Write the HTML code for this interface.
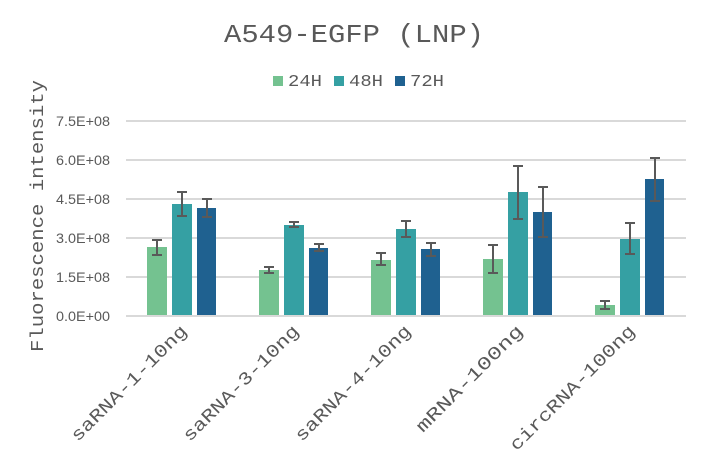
<!DOCTYPE html>
<html><head><style>body{margin:0;background:#fff}svg{display:block}</style></head><body>
<svg width="709" height="472" xmlns="http://www.w3.org/2000/svg">
<rect width="709" height="472" fill="#fff"/>
<text x="354" y="42" text-anchor="middle" font-family="Liberation Mono, monospace" font-size="26" fill="#595959" textLength="260" lengthAdjust="spacingAndGlyphs">A549-EGFP (LNP)</text>
<g font-family="Liberation Mono, monospace" font-size="17" fill="#595959">
<rect x="273" y="76" width="10" height="10" fill="#74c290"/><text x="288" y="86" textLength="34" lengthAdjust="spacingAndGlyphs">24H</text>
<rect x="334" y="76" width="10" height="10" fill="#35a0a3"/><text x="349" y="86" textLength="34" lengthAdjust="spacingAndGlyphs">48H</text>
<rect x="395" y="76" width="10" height="10" fill="#1f6190"/><text x="410" y="86" textLength="34" lengthAdjust="spacingAndGlyphs">72H</text>
</g>
<text transform="translate(43,216) rotate(-90)" text-anchor="middle" font-family="Liberation Mono, monospace" font-size="18" fill="#595959" textLength="272" lengthAdjust="spacingAndGlyphs">Fluorescence intensity</text>
<g stroke="#d9d9d9" stroke-width="2">
<line x1="126" x2="686" y1="121" y2="121"/><line x1="126" x2="686" y1="160" y2="160"/><line x1="126" x2="686" y1="199" y2="199"/><line x1="126" x2="686" y1="238" y2="238"/><line x1="126" x2="686" y1="277" y2="277"/><line x1="126" x2="686" y1="316" y2="316"/>
</g>
<g font-family="Liberation Sans, sans-serif" font-size="14" fill="#595959">
<text x="56" y="126" textLength="54" lengthAdjust="spacingAndGlyphs">7.5E+08</text><text x="56" y="165" textLength="54" lengthAdjust="spacingAndGlyphs">6.0E+08</text><text x="56" y="204" textLength="54" lengthAdjust="spacingAndGlyphs">4.5E+08</text><text x="56" y="243" textLength="54" lengthAdjust="spacingAndGlyphs">3.0E+08</text><text x="56" y="282" textLength="54" lengthAdjust="spacingAndGlyphs">1.5E+08</text><text x="56" y="321" textLength="54" lengthAdjust="spacingAndGlyphs">0.0E+00</text>
</g>
<g>
<rect x="147" y="247" width="20" height="68" fill="#74c290"/><rect x="172" y="204" width="20" height="111" fill="#35a0a3"/><rect x="197" y="208" width="19" height="107" fill="#1f6190"/>
<rect x="259" y="270" width="20" height="45" fill="#74c290"/><rect x="284" y="225" width="20" height="90" fill="#35a0a3"/><rect x="309" y="248" width="19" height="67" fill="#1f6190"/>
<rect x="371" y="260" width="20" height="55" fill="#74c290"/><rect x="396" y="229" width="20" height="86" fill="#35a0a3"/><rect x="421" y="249" width="19" height="66" fill="#1f6190"/>
<rect x="483" y="259" width="20" height="56" fill="#74c290"/><rect x="508" y="192" width="20" height="123" fill="#35a0a3"/><rect x="533" y="212" width="19" height="103" fill="#1f6190"/>
<rect x="595" y="305" width="20" height="10" fill="#74c290"/><rect x="620" y="239" width="20" height="76" fill="#35a0a3"/><rect x="645" y="179" width="19" height="136" fill="#1f6190"/>
</g>
<g stroke="#595959" stroke-width="2" fill="none">
<path d="M157 240V255M152 240h10M152 255h10"/>
<path d="M182 192V216M177 192h10M177 216h10"/>
<path d="M207 199V217M202 199h10M202 217h10"/>
<path d="M269 267V273M264 267h10M264 273h10"/>
<path d="M294 222V227M289 222h10M289 227h10"/>
<path d="M319 244V251M314 244h10M314 251h10"/>
<path d="M381 253V265M376 253h10M376 265h10"/>
<path d="M406 221V237M401 221h10M401 237h10"/>
<path d="M431 243V256M426 243h10M426 256h10"/>
<path d="M493 245V273M488 245h10M488 273h10"/>
<path d="M518 166V219M513 166h10M513 219h10"/>
<path d="M543 187V237M538 187h10M538 237h10"/>
<path d="M605 301V309M600 301h10M600 309h10"/>
<path d="M630 223V254M625 223h10M625 254h10"/>
<path d="M655 158V201M650 158h10M650 201h10"/>
</g>
<g font-family="Liberation Mono, monospace" font-size="18" fill="#595959" text-anchor="end">
<text transform="translate(188,332) rotate(-45)" textLength="156" lengthAdjust="spacingAndGlyphs">saRNA-1-10ng</text>
<text transform="translate(300,332) rotate(-45)" textLength="156" lengthAdjust="spacingAndGlyphs">saRNA-3-10ng</text>
<text transform="translate(412,332) rotate(-45)" textLength="156" lengthAdjust="spacingAndGlyphs">saRNA-4-10ng</text>
<text transform="translate(524,332) rotate(-45)" textLength="143" lengthAdjust="spacingAndGlyphs">mRNA-100ng</text>
<text transform="translate(636,332) rotate(-45)" textLength="169" lengthAdjust="spacingAndGlyphs">circRNA-100ng</text>
</g>
</svg>
</body></html>
